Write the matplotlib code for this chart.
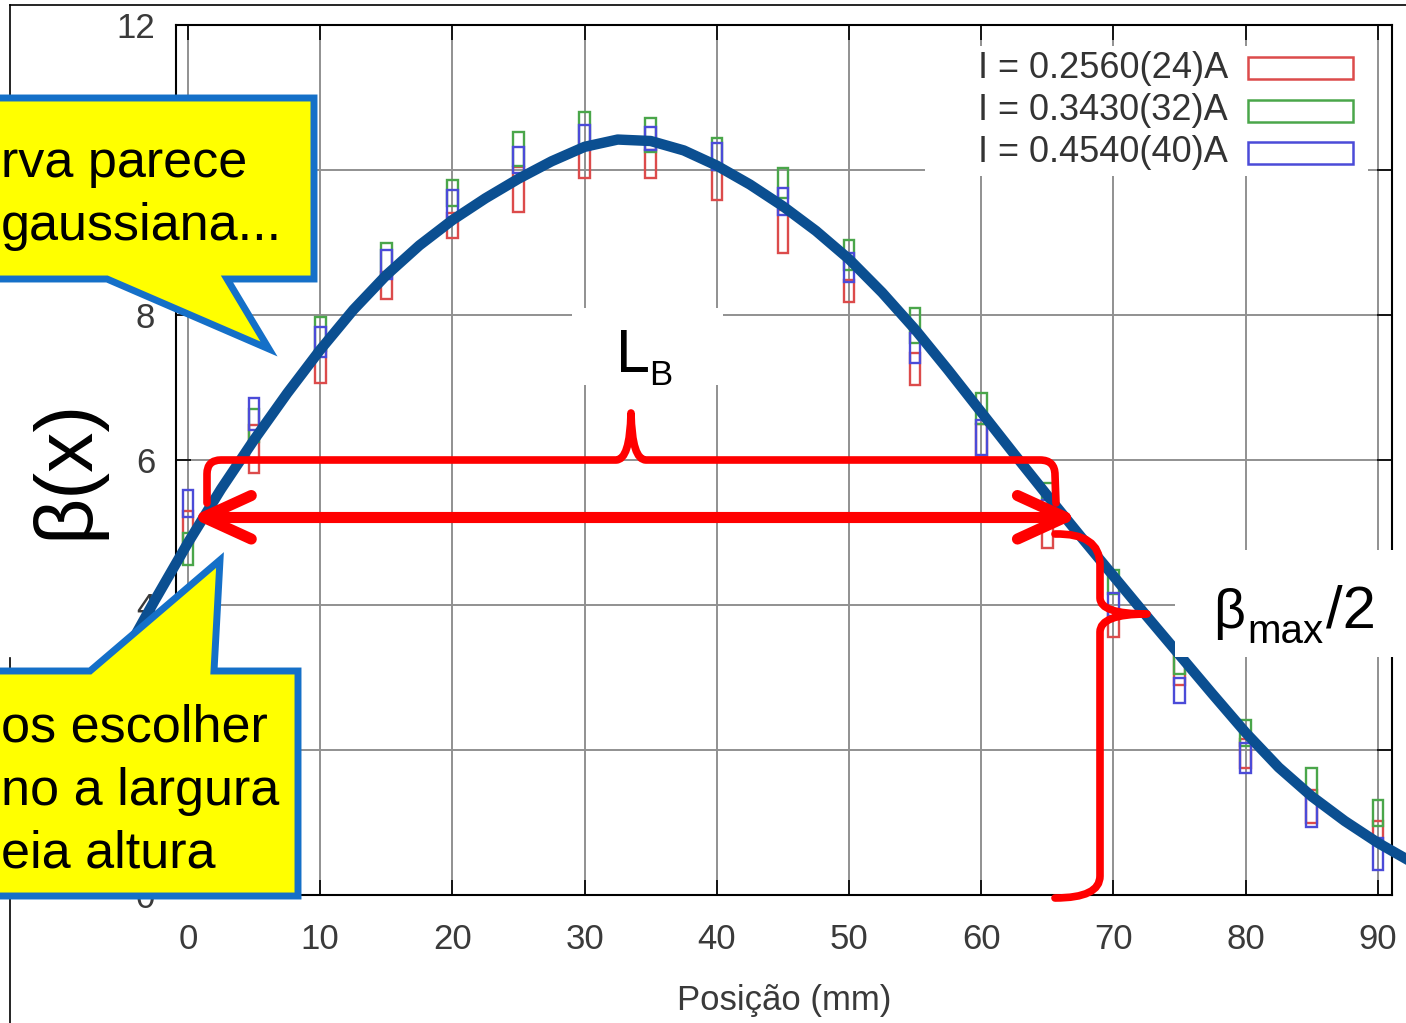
import numpy as np
import matplotlib.pyplot as plt
from matplotlib.patches import Rectangle, Polygon, PathPatch
from matplotlib.path import Path

plt.rcParams['font.family'] = ['Liberation Sans', 'DejaVu Sans']

W, H = 1406, 1023

# posições das medidas (mm)
posicao = [0, 5, 10, 15, 20, 25, 30, 35, 40, 45, 50, 55, 60, 65, 70, 75, 80, 85, 90]

# barras de erro de beta(x) para cada corrente: limite inferior / superior
red_lo = [4.85, 5.82, 7.06, 8.22, 9.06, 9.42, 9.89, 9.89, 9.59, 8.85, 8.18, 7.03, 6.05, 4.79, 3.56, 2.90, 1.75, 1.00, 0.72]
red_hi = [5.30, 6.48, 7.52, 8.60, 9.41, 10.04, 10.32, 10.28, 10.00, 9.45, 8.48, 7.48, 6.50, 5.17, 3.92, 3.30, 2.15, 1.45, 1.02]
green_lo = [4.55, 6.25, 7.50, 8.55, 9.50, 10.05, 10.30, 10.25, 10.00, 9.62, 8.62, 7.62, 6.50, 5.25, 4.15, 3.05, 2.05, 1.40, 0.95]
green_hi = [5.00, 6.70, 7.97, 8.99, 9.86, 10.52, 10.80, 10.72, 10.44, 10.03, 9.03, 8.10, 6.92, 5.68, 4.48, 3.45, 2.41, 1.75, 1.31]
blue_lo = [5.22, 6.42, 7.42, 8.50, 9.35, 9.96, 10.28, 10.28, 10.00, 9.38, 8.46, 7.34, 6.07, 5.10, 3.85, 2.65, 1.68, 0.94, 0.34]
blue_hi = [5.59, 6.86, 7.83, 8.90, 9.72, 10.32, 10.62, 10.60, 10.37, 9.75, 8.85, 7.75, 6.55, 5.45, 4.17, 3.00, 2.10, 1.35, 0.78]

rotulos = ['I = 0.2560(24)A', 'I = 0.3430(32)A', 'I = 0.4540(40)A']
cores = ['#dc4b4b', '#4aa64a', '#4b4bd8']

# curva ajustada
fit_x = [-5.0, -2.5, 0, 2.5, 5, 7.5, 10, 12.5, 15, 17.5, 20, 22.5, 25, 27.5, 30, 32.5, 35,
         37.5, 40, 42.5, 45, 47.5, 50, 52.5, 55, 57.5, 60, 62.5, 65, 67.5, 70, 72.5, 75,
         77.5, 80, 82.5, 85, 87.5, 90, 92.5]
fit_y = [3.25, 4.07, 4.86, 5.60, 6.28, 6.92, 7.52, 8.07, 8.55, 8.96, 9.31, 9.61, 9.88, 10.12,
         10.32, 10.42, 10.40, 10.27, 10.06, 9.80, 9.50, 9.16, 8.77, 8.31, 7.80, 7.24, 6.66,
         6.08, 5.51, 4.95, 4.40, 3.85, 3.31, 2.77, 2.24, 1.76, 1.36, 1.02, 0.72, 0.46]

fig = plt.figure(figsize=(W / 100, H / 100), dpi=100)
ax = fig.add_axes([176 / W, 1 - 895 / H, (1392 - 176) / W, (895 - 25) / H])
ax.set_xlim(-0.91, 91.07)
ax.set_ylim(0, 12)
ax.set_xticks(range(0, 91, 10))
ax.set_yticks(range(0, 13, 2))
# os rótulos 2 e 10 ficam sob os balões
ax.set_yticklabels(['0', '', '4', '6', '8', '', '12'])
ax.grid(True, color='#909090', linewidth=1.4)
ax.tick_params(direction='in', length=11, width=1.2, top=True, right=True,
               labelsize=25, labelcolor='#3a3a3a')
ax.tick_params(axis='x', pad=20)
ax.tick_params(axis='y', pad=15)
for s in ax.spines.values():
    s.set_linewidth(1.5)
ax.set_xlabel('Posição (mm)', fontsize=25, color='#3a3a3a', labelpad=20)

series = [(red_lo, red_hi), (green_lo, green_hi), (blue_lo, blue_hi)]
for k, ((lo, hi), c) in enumerate(zip(series, cores)):
    alt = np.array(hi) - np.array(lo)
    ax.bar(posicao, alt, bottom=lo, width=0.8, fill=False, edgecolor=c,
           linewidth=1.7, zorder=3 + k * 0.1)

ax.plot(fit_x, fit_y, color='#0b4f91', linewidth=7.5, solid_joinstyle='round',
        clip_on=False, zorder=6)

# largura a meia altura
fy = np.array(fit_y)
fx = np.array(fit_x)
ipk = int(np.argmax(fy))
meia = fy[ipk] / 2
x_esq = np.interp(meia, fy[:ipk + 1], fx[:ipk + 1])
x_dir = np.interp(meia, fy[ipk:][::-1], fx[ipk:][::-1])
seta = dict(color='red', linewidth=8, solid_capstyle='round', solid_joinstyle='round',
            clip_on=False, zorder=20)
ax.plot([x_esq, x_dir], [meia, meia], **seta)
ax.plot([x_esq + 3.6, x_esq, x_esq + 3.6], [meia + 0.3, meia, meia - 0.3], **seta)
ax.plot([x_dir - 3.6, x_dir, x_dir - 3.6], [meia + 0.3, meia, meia - 0.3], **seta)

# camada de anotações em pixels
ov = fig.add_axes([0, 0, 1, 1])
ov.set_xlim(0, W)
ov.set_ylim(H, 0)
ov.axis('off')
ov.patch.set_visible(False)
ov.set_zorder(5)

# moldura do slide
ov.plot([10, W], [5, 5], color='black', linewidth=1.2)
ov.plot([10, 10], [5, 100], color='black', linewidth=1.2)
ov.plot([10, 10], [658, H], color='black', linewidth=1.2)

# legenda
ov.add_patch(Rectangle((925, 46), 443, 130, facecolor='white', edgecolor='none', zorder=1))
for i, (txt, c) in enumerate(zip(rotulos, cores)):
    yc = 68 + i * 42.5
    ov.text(1228, yc, txt, ha='right', va='center', fontsize=26, color='#333333', zorder=3)
    ov.add_patch(Rectangle((1248, yc - 11), 105, 22, fill=False, edgecolor=c,
                           linewidth=1.8, zorder=3))

# rótulos
ov.add_patch(Rectangle((572, 308), 151, 77, facecolor='white', edgecolor='none', zorder=1))
ov.text(616, 372, 'L', fontsize=44, va='baseline', zorder=3)
ov.text(649, 385, 'B', fontsize=25, va='baseline', zorder=3)

ov.add_patch(Rectangle((1175, 550), 240, 107, facecolor='white', edgecolor='none', zorder=1))
ov.text(1213, 628, 'β', fontsize=40, va='baseline', zorder=3)
ov.text(1247, 643, 'max', fontsize=29, va='baseline', zorder=3)
ov.text(1326, 628, '/2', fontsize=43, va='baseline', zorder=3)

ov.text(66, 469, 'β(x)', rotation=90, fontsize=58, ha='center', va='center', zorder=3)

# balões
amarelo, azul = '#ffff00', '#1570c8'
balao1 = [(-20, 98), (314, 98), (314, 279), (227, 279), (269, 349), (107, 279), (-20, 279)]
balao2 = [(-20, 671), (90, 671), (220, 560), (214, 671), (298, 671), (298, 896), (-20, 896)]
for b in (balao1, balao2):
    ov.add_patch(Polygon(b, closed=True, facecolor=amarelo, edgecolor=azul,
                         linewidth=5, joinstyle='miter', zorder=2))

fs = 37.5
ov.text(1, 177, 'rva parece', ha='left', va='baseline', fontsize=fs, zorder=3)
ov.text(1, 240, 'gaussiana...', ha='left', va='baseline', fontsize=fs, zorder=3)
ov.text(1, 742, 'os escolher', ha='left', va='baseline', fontsize=fs, zorder=3)
ov.text(1, 805, 'no a largura', ha='left', va='baseline', fontsize=fs, zorder=3)
ov.text(1, 868, 'eia altura', ha='left', va='baseline', fontsize=fs, zorder=3)


def chave(passos):
    verts, codes = [], []
    for p in passos:
        if p[0] == 'M':
            verts.append(p[1]); codes.append(Path.MOVETO)
        elif p[0] == 'L':
            verts.append(p[1]); codes.append(Path.LINETO)
        else:
            verts += [p[1], p[2]]; codes += [Path.CURVE3, Path.CURVE3]
    return PathPatch(Path(verts, codes), fill=False, edgecolor='red', linewidth=5.5,
                     capstyle='round', joinstyle='round', zorder=4)


ov.add_patch(chave([('M', (207, 503)), ('L', (207, 474)), ('Q', (207, 460), (221, 460)),
                    ('L', (616, 460)), ('Q', (630, 460), (631, 413)),
                    ('Q', (632, 460), (646, 460)), ('L', (1040, 460)),
                    ('Q', (1055, 460), (1055, 475)), ('L', (1056, 503))]))
ov.add_patch(chave([('M', (1055, 534)), ('Q', (1100, 533), (1100, 565)), ('L', (1100, 598)),
                    ('Q', (1100, 614), (1147, 614)), ('Q', (1100, 614), (1100, 632)),
                    ('L', (1100, 876)), ('Q', (1100, 898), (1055, 898))]))

fig.savefig('out.png', dpi=100)
